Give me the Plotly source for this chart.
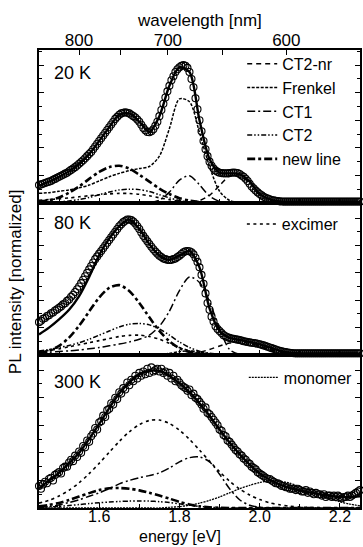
import numpy as np
import plotly.graph_objects as go

# ---------------------------------------------------------------------------
# Energy axes (eV)
# ---------------------------------------------------------------------------
energy_grid = [1.450, 1.475, 1.500, 1.525, 1.550, 1.575, 1.600, 1.625, 1.650,
               1.675, 1.700, 1.725, 1.750, 1.775, 1.800, 1.825, 1.850, 1.875,
               1.900, 1.925, 1.950, 1.975, 2.000, 2.025, 2.050, 2.075, 2.100,
               2.125, 2.150, 2.175, 2.200, 2.225, 2.250]
energy_fine = np.round(np.arange(1.45, 2.2501, 0.005), 4)  # measured points

wavelength_ticks = [800, 750, 700, 650, 600]
wavelength_labels = ["800", "", "700", "", "600"]

# ---------------------------------------------------------------------------
# 20 K
# ---------------------------------------------------------------------------
data_20 = [0.13, 0.135, 0.14, 0.145, 0.15, 0.155, 0.16, 0.168, 0.175, 0.183,
           0.19, 0.198, 0.205, 0.213, 0.22, 0.23, 0.24, 0.25, 0.26, 0.272,
           0.285, 0.297, 0.31, 0.325, 0.34, 0.355, 0.37, 0.39, 0.41, 0.43,
           0.45, 0.47, 0.49, 0.51, 0.53, 0.55, 0.57, 0.59, 0.61, 0.625,
           0.64, 0.65, 0.655, 0.658, 0.655, 0.65, 0.64, 0.63, 0.62, 0.605,
           0.59, 0.568, 0.545, 0.528, 0.515, 0.513, 0.52, 0.535, 0.56, 0.59,
           0.63, 0.675, 0.72, 0.765, 0.81, 0.85, 0.89, 0.92, 0.95, 0.97,
           0.985, 0.995, 1.0, 0.995, 0.98, 0.95, 0.90, 0.84, 0.76, 0.68,
           0.60, 0.52, 0.45, 0.39, 0.34, 0.30, 0.27, 0.25, 0.235, 0.226,
           0.22, 0.217, 0.215, 0.215, 0.215, 0.217, 0.22, 0.221, 0.22, 0.218,
           0.21, 0.20, 0.19, 0.176, 0.16, 0.14, 0.12, 0.105, 0.09, 0.077,
           0.065, 0.055, 0.045, 0.038, 0.032, 0.027, 0.022, 0.019, 0.016, 0.014,
           0.012, 0.011, 0.01, 0.01, 0.01, 0.01, 0.01, 0.01, 0.01, 0.01,
           0.01, 0.01, 0.01, 0.01, 0.01, 0.01, 0.01, 0.01, 0.01, 0.01,
           0.01, 0.01, 0.01, 0.01, 0.01, 0.01, 0.01, 0.01, 0.01, 0.01,
           0.01, 0.01, 0.01, 0.01, 0.01, 0.01, 0.01, 0.01, 0.01, 0.01,
           0.01]
fit_20 = [0.125, 0.155, 0.19, 0.23, 0.285, 0.355, 0.45, 0.55, 0.64, 0.65, 0.59, 0.515, 0.63,
          0.85, 0.985, 0.95, 0.60, 0.32, 0.22, 0.215, 0.21, 0.155, 0.065, 0.027, 0.012,
          0.01, 0.01, 0.01, 0.01, 0.01, 0.01, 0.01, 0.01]
ct2nr_20 = [0] * 14 + [0.001, 0.003, 0.017, 0.056, 0.127, 0.196, 0.204, 0.143, 0.068, 0.022,
                       0.005, 0.001] + [0] * 7
frenkel_20 = [0.07, 0.075, 0.085, 0.095, 0.11, 0.13, 0.16, 0.19, 0.215, 0.235, 0.25, 0.265,
              0.34, 0.54, 0.755, 0.735, 0.51, 0.265, 0.085, 0.018, 0.003] + [0] * 12
ct1_20 = [0] * 11 + [0.003, 0.021, 0.079, 0.166, 0.198, 0.132, 0.05, 0.011, 0.001] + [0] * 13
ct2_20 = [0.002, 0.004, 0.008, 0.015, 0.025, 0.04, 0.06, 0.08, 0.095, 0.10, 0.097, 0.083,
          0.06, 0.037, 0.018, 0.007, 0.002] + [0] * 16
newline_20 = [0.01, 0.02, 0.04, 0.075, 0.12, 0.175, 0.225, 0.26, 0.27, 0.25, 0.205, 0.155,
              0.105, 0.065, 0.035, 0.017, 0.007, 0.002] + [0] * 15
excimer_20 = [0.02, 0.025, 0.03, 0.037, 0.045, 0.053, 0.06, 0.066, 0.07, 0.069, 0.063, 0.052,
              0.038, 0.024, 0.012, 0.005, 0.001] + [0] * 16

# ---------------------------------------------------------------------------
# 80 K
# ---------------------------------------------------------------------------
data_80 = [0.24, 0.25, 0.265, 0.27, 0.285, 0.29, 0.305, 0.31, 0.325, 0.333,
           0.345, 0.355, 0.37, 0.378, 0.395, 0.405, 0.425, 0.44, 0.46, 0.48,
           0.50, 0.525, 0.55, 0.575, 0.60, 0.625, 0.65, 0.675, 0.70, 0.72,
           0.74, 0.76, 0.78, 0.80, 0.82, 0.84, 0.86, 0.88, 0.90, 0.92,
           0.94, 0.955, 0.97, 0.98, 0.99, 0.99, 0.985, 0.975, 0.96, 0.94,
           0.92, 0.895, 0.87, 0.85, 0.83, 0.81, 0.79, 0.772, 0.755, 0.74,
           0.725, 0.715, 0.705, 0.70, 0.695, 0.694, 0.695, 0.70, 0.705, 0.715,
           0.725, 0.738, 0.75, 0.757, 0.76, 0.758, 0.75, 0.735, 0.71, 0.68,
           0.64, 0.585, 0.52, 0.45, 0.38, 0.33, 0.28, 0.245, 0.21, 0.19,
           0.175, 0.16, 0.145, 0.137, 0.13, 0.125, 0.12, 0.118, 0.115, 0.112,
           0.11, 0.105, 0.10, 0.098, 0.095, 0.092, 0.09, 0.088, 0.085, 0.082,
           0.078, 0.074, 0.07, 0.065, 0.06, 0.055, 0.05, 0.045, 0.04, 0.035,
           0.03, 0.027, 0.024, 0.021, 0.018, 0.016, 0.015, 0.013, 0.012, 0.012,
           0.012, 0.012, 0.012, 0.012, 0.012, 0.012, 0.012, 0.012, 0.012, 0.012,
           0.012, 0.012, 0.012, 0.012, 0.012, 0.012, 0.012, 0.012, 0.012, 0.012,
           0.012, 0.012, 0.012, 0.012, 0.012, 0.012, 0.012, 0.012, 0.012, 0.012,
           0.012]
fit_80 = [0.15, 0.2, 0.26, 0.33, 0.43, 0.57, 0.73, 0.85, 0.94, 0.99, 0.92, 0.81, 0.725, 0.695,
          0.725, 0.76, 0.64, 0.34, 0.175, 0.125, 0.11, 0.095, 0.078, 0.055, 0.03, 0.016,
          0.012, 0.012, 0.012, 0.012, 0.012, 0.012, 0.012]
ct2nr_80 = [0] * 14 + [0.003, 0.008, 0.02, 0.04, 0.066, 0.088, 0.095, 0.085, 0.065, 0.042,
                       0.022, 0.01, 0.004, 0.001] + [0] * 5
frenkel_80 = [0] * 12 + [0.005, 0.012, 0.025, 0.03, 0.022, 0.01, 0.003] + [0] * 14
ct1_80 = [0.015, 0.02, 0.025, 0.03, 0.037, 0.045, 0.055, 0.067, 0.08, 0.095, 0.115, 0.145,
          0.21, 0.32, 0.47, 0.57, 0.53, 0.39, 0.19, 0.04, 0.005] + [0] * 12
ct2_80 = [0.03, 0.04, 0.055, 0.07, 0.09, 0.115, 0.145, 0.175, 0.205, 0.225, 0.23, 0.22,
          0.19, 0.145, 0.095, 0.055, 0.028, 0.013, 0.005, 0.001] + [0] * 13
newline_80 = [0.013, 0.031, 0.067, 0.127, 0.214, 0.318, 0.42, 0.49, 0.51, 0.468, 0.38, 0.275,
              0.176, 0.10, 0.05, 0.022, 0.009, 0.003, 0.001] + [0] * 14
excimer_80 = [0.025, 0.033, 0.045, 0.06, 0.075, 0.09, 0.105, 0.12, 0.135, 0.143, 0.145, 0.135,
              0.115, 0.085, 0.055, 0.032, 0.016, 0.007, 0.002] + [0] * 14

# ---------------------------------------------------------------------------
# 300 K
# ---------------------------------------------------------------------------
data_300 = [0.16, 0.14, 0.17, 0.19, 0.18, 0.21, 0.22, 0.20, 0.24, 0.25,
            0.26, 0.25, 0.29, 0.30, 0.30, 0.33, 0.35, 0.34, 0.38, 0.37,
            0.41, 0.40, 0.45, 0.44, 0.49, 0.48, 0.52, 0.54, 0.58, 0.57,
            0.62, 0.63, 0.67, 0.66, 0.71, 0.72, 0.76, 0.75, 0.80, 0.79,
            0.84, 0.83, 0.87, 0.86, 0.91, 0.89, 0.93, 0.92, 0.96, 0.94,
            0.98, 0.96, 0.99, 0.97, 1.01, 0.98, 1.02, 0.99, 1.00, 1.01,
            0.99, 1.01, 0.98, 0.99, 0.96, 0.98, 0.94, 0.96, 0.92, 0.93,
            0.91, 0.89, 0.88, 0.87, 0.85, 0.86, 0.82, 0.83, 0.80, 0.79,
            0.77, 0.75, 0.72, 0.73, 0.69, 0.68, 0.66, 0.64, 0.62, 0.60,
            0.57, 0.56, 0.53, 0.52, 0.49, 0.48, 0.46, 0.44, 0.42, 0.41,
            0.39, 0.38, 0.36, 0.35, 0.33, 0.32, 0.30, 0.29, 0.28, 0.26,
            0.25, 0.24, 0.23, 0.22, 0.21, 0.21, 0.20, 0.19, 0.18, 0.18,
            0.17, 0.16, 0.16, 0.15, 0.15, 0.14, 0.14, 0.14, 0.13, 0.14,
            0.13, 0.12, 0.12, 0.13, 0.11, 0.12, 0.11, 0.10, 0.11, 0.10,
            0.10, 0.09, 0.10, 0.08, 0.09, 0.09, 0.08, 0.09, 0.08, 0.09,
            0.08, 0.07, 0.08, 0.08, 0.09, 0.08, 0.09, 0.10, 0.11, 0.12,
            0.13]
fit_300 = [0.14, 0.2, 0.255, 0.325, 0.40, 0.50, 0.61, 0.725, 0.83, 0.91, 0.97, 0.995, 0.995,
           0.96, 0.905, 0.84, 0.76, 0.67, 0.57, 0.475, 0.39, 0.315, 0.25, 0.205, 0.17, 0.145,
           0.127, 0.112, 0.10, 0.088, 0.08, 0.08, 0.085]
excimer_300 = [0.035, 0.056, 0.087, 0.129, 0.183, 0.249, 0.324, 0.404, 0.483, 0.553, 0.605,
               0.635, 0.638, 0.613, 0.565, 0.498, 0.42, 0.34, 0.263, 0.195, 0.138, 0.094,
               0.061, 0.038, 0.023, 0.013, 0.007, 0.004, 0.002, 0.001, 0, 0, 0]
ct1_300 = [0.005, 0.01, 0.022, 0.04, 0.06, 0.085, 0.11, 0.14, 0.175, 0.20, 0.22, 0.235, 0.255,
           0.29, 0.335, 0.365, 0.37, 0.335, 0.245, 0.14, 0.06, 0.02, 0.005, 0.001] + [0] * 9
newline_300 = [0.012, 0.022, 0.037, 0.058, 0.083, 0.108, 0.13, 0.143, 0.145, 0.14, 0.128, 0.11,
               0.09, 0.068, 0.045, 0.025, 0.012, 0.005, 0.001] + [0] * 14
ct2_300 = [0.005, 0.008, 0.012, 0.018, 0.025, 0.032, 0.038, 0.043, 0.047, 0.05, 0.051, 0.05,
           0.046, 0.04, 0.03, 0.02, 0.012, 0.006, 0.002] + [0] * 14
monomer_300 = [0] * 13 + [0.005, 0.01, 0.02, 0.035, 0.055, 0.08, 0.11, 0.14, 0.165, 0.185, 0.198,
                          0.195, 0.18, 0.155, 0.125, 0.095, 0.068, 0.045, 0.028, 0.016]

# ---------------------------------------------------------------------------
# Line styles of the fit components
# ---------------------------------------------------------------------------
STYLES = {
    "CT2-nr": dict(dash="5px,4px", width=1.5),
    "Frenkel": dict(dash="3px,1.5px", width=1.5),
    "CT1": dict(dash="8px,3px,2px,3px", width=1.5),
    "CT2": dict(dash="5px,2px,1.5px,2px,1.5px,2px", width=1.5),
    "new line": dict(dash="8px,3px,3px,3px", width=2.6),
    "excimer": dict(dash="3px,3.5px", width=1.6),
    "monomer": dict(dash="2px,1px", width=1.3),
}

FONT = "Liberation Sans, Arial, Helvetica, sans-serif"
fig = go.Figure()


def add_component(row, name, values, legend=None):
    xa = "x" if row == 1 else f"x{row}"
    ya = "y" if row == 1 else f"y{row}"
    fig.add_trace(go.Scatter(
        x=energy_grid, y=values, mode="lines", name=name,
        line=dict(color="black", shape="spline", smoothing=0.8, **STYLES[name]),
        xaxis=xa, yaxis=ya, hoverinfo="skip",
        showlegend=legend is not None, legend=legend or "legend",
    ))


def add_measurement(row, data, fit):
    xa = "x" if row == 1 else f"x{row}"
    ya = "y" if row == 1 else f"y{row}"
    fig.add_trace(go.Scatter(
        x=energy_grid, y=fit, mode="lines", showlegend=False,
        line=dict(color="black", width=2.4, shape="spline", smoothing=0.8),
        xaxis=xa, yaxis=ya, hoverinfo="skip"))
    fig.add_trace(go.Scatter(
        x=energy_fine, y=data, mode="markers", showlegend=False,
        marker=dict(symbol="circle-open", size=7, color="black", line=dict(width=1.1)),
        xaxis=xa, yaxis=ya, cliponaxis=False))


# 20 K panel (legend order)
add_component(1, "CT2-nr", ct2nr_20, "legend")
add_component(1, "Frenkel", frenkel_20, "legend")
add_component(1, "CT1", ct1_20, "legend")
add_component(1, "CT2", ct2_20, "legend")
add_component(1, "new line", newline_20, "legend")
add_component(1, "excimer", excimer_20)
add_measurement(1, data_20, fit_20)

# 80 K panel
add_component(2, "excimer", excimer_80, "legend2")
add_component(2, "CT2-nr", ct2nr_80)
add_component(2, "Frenkel", frenkel_80)
add_component(2, "CT1", ct1_80)
add_component(2, "CT2", ct2_80)
add_component(2, "new line", newline_80)
add_measurement(2, data_80, fit_80)

# 300 K panel
add_component(3, "monomer", monomer_300, "legend3")
add_component(3, "excimer", excimer_300)
add_component(3, "CT1", ct1_300)
add_component(3, "CT2", ct2_300)
add_component(3, "new line", newline_300)
add_measurement(3, data_300, fit_300)

# ---------------------------------------------------------------------------
# Axes
# ---------------------------------------------------------------------------
E_RANGE = [1.45, 2.25]
Y_RANGE = [0, 1.11]
domains = {1: [305 / 458, 1.0], 2: [153 / 458, 305 / 458], 3: [0.0, 153 / 458]}

x_common = dict(range=E_RANGE, showgrid=False, zeroline=False, showline=True, mirror=True,
                linecolor="black", linewidth=1.5, ticks="inside", ticklen=5, tickwidth=1,
                tickcolor="black", tick0=1.6, dtick=0.2, tickformat=".1f",
                minor=dict(ticks="inside", ticklen=4, tickwidth=1, tickcolor="black",
                           tick0=1.5, dtick=0.1, showgrid=False))
y_common = dict(range=Y_RANGE, showgrid=False, zeroline=False, showline=True, mirror="ticks",
                linecolor="black", linewidth=1.5, ticks="inside", ticklen=5, tickwidth=1,
                tickcolor="black", tick0=0, dtick=0.2, showticklabels=False,
                minor=dict(ticks="inside", ticklen=3, tickwidth=1, tickcolor="black",
                           tick0=0, dtick=0.1, showgrid=False))

layout_axes = {}
for row in (1, 2, 3):
    xk = "xaxis" if row == 1 else f"xaxis{row}"
    yk = "yaxis" if row == 1 else f"yaxis{row}"
    ya = "y" if row == 1 else f"y{row}"
    layout_axes[xk] = dict(x_common, anchor=ya, domain=[0, 1],
                           showticklabels=(row == 3),
                           tickfont=dict(family=FONT, size=16, color="black"))
    if row != 1:
        layout_axes[xk]["matches"] = "x"
    layout_axes[yk] = dict(y_common, anchor=xk.replace("axis", ""), domain=domains[row])
layout_axes["xaxis3"]["ticklabelstandoff"] = -7

# wavelength scale on top of the first panel
layout_axes["xaxis4"] = dict(
    overlaying="x", anchor="y", side="top", range=E_RANGE,
    tickmode="array", tickvals=[1239.84 / w for w in wavelength_ticks],
    ticktext=wavelength_labels, ticks="inside", ticklen=5, tickwidth=1, tickcolor="black",
    showline=False, showgrid=False, zeroline=False,
    tickfont=dict(family=FONT, size=17, color="black"))

fig.add_trace(go.Scatter(x=E_RANGE, y=[None, None], xaxis="x4", yaxis="y",
                         showlegend=False, hoverinfo="skip"))

legend_style = dict(bgcolor="rgba(0,0,0,0)", borderwidth=0, xanchor="left", yanchor="top",
                    font=dict(family=FONT, size=16, color="black"), tracegroupgap=0,
                    itemwidth=30, itemclick=False)

fig.update_layout(
    width=363, height=547,
    margin=dict(l=39, r=1, t=50, b=39),
    paper_bgcolor="white", plot_bgcolor="white",
    font=dict(family=FONT, size=17, color="black"),
    legend=dict(legend_style, x=0.633, y=1.007),
    legend2=dict(legend_style, x=0.632, y=0.657),
    legend3=dict(legend_style, x=0.638, y=0.322),
    **layout_axes,
)

# titles and panel labels
ann = dict(showarrow=False, xref="paper", yref="paper", font=dict(family=FONT, size=17, color="black"))
fig.add_annotation(ann, text="wavelength [nm]", x=0.5, y=(508 - 21) / 458, xanchor="center", yanchor="middle")
fig.add_annotation(ann, text="energy [eV]", x=(181 - 39) / 323, y=(508 - 547) / 458, xanchor="center",
                   yanchor="bottom", font=dict(family=FONT, size=16, color="black"))
fig.add_annotation(ann, text="PL intensity [normalized]", x=(15 - 39) / 323, y=(508 - 282) / 458,
                   xanchor="center", yanchor="middle", textangle=-90)
for label, ypix in (("20 K", 73), ("80 K", 223), ("300 K", 382)):
    fig.add_annotation(ann, text=label, x=(52 - 39) / 323, y=(508 - ypix) / 458,
                       xanchor="left", yanchor="middle", font=dict(family=FONT, size=18, color="black"))

fig.write_html("out.html")
